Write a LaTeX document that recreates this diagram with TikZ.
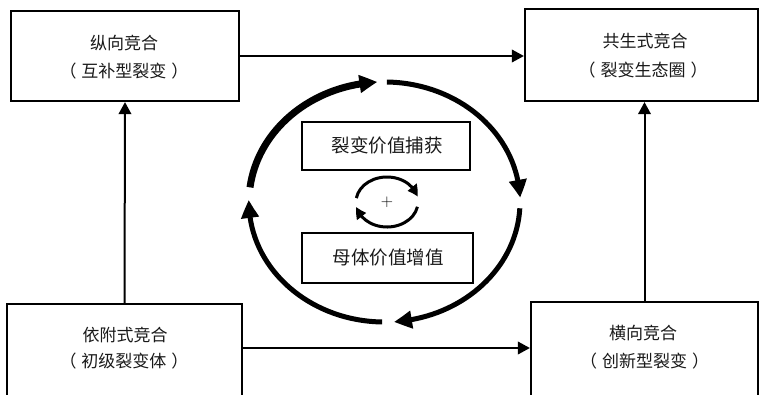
\documentclass[tikz,border=0pt]{standalone}
\usepackage{fontspec}
\newfontfamily\cjk{Noto Sans CJK SC}
\usetikzlibrary{arrows.meta,bending}

\newcommand{\paren}[1]{（\kern5pt #1\kern5pt ）}

\tikzset{
  box/.style={draw, line width=2.2pt, inner sep=0pt},
  inbox/.style={draw, line width=1.8pt, inner sep=0pt},
  lbl/.style={font=\cjk\fontsize{17}{20}\selectfont, inner sep=0pt, text=black!90},
  inlbl/.style={font=\cjk\fontsize{18.5}{22}\selectfont, inner sep=0pt, text=black!90},
  conn/.style={line width=2pt, -{Triangle[length=12pt,width=12.5pt]}},
  loop/.style={line width=5pt, -{Triangle[length=18pt,width=17pt,bend]}},
  loopheavy/.style={loop, line width=7pt},
  spin/.style={line width=3pt, -{Triangle[length=11pt,width=11pt,bend]}},
}

\begin{document}
\begin{tikzpicture}[x=1pt,y=-1pt]
\useasboundingbox (0,0) rectangle (760,394);
\clip (0,0) rectangle (760,394);

% four outer boxes (the lower two run past the bottom edge)
\node[box, minimum width=228pt, minimum height=90pt]  (tl) at (125,56) {};
\node[box, minimum width=233pt, minimum height=92pt]  (tr) at (641.5,55) {};
\node[box, minimum width=235pt, minimum height=106pt] (bl) at (124.5,357) {};
\node[box, minimum width=227pt, minimum height=108pt] (br) at (644.5,356) {};

% box captions
\node[lbl] (tla) at (124,43)   {纵向竞合};
\node[lbl] (tlb) at (124,71)   {\paren{互补型裂变}};
\node[lbl] (tra) at (645,41.5) {共生式竞合};
\node[lbl] (trb) at (643,70)   {\paren{裂变生态圈}};
\node[lbl] (bla) at (125,335)  {依附式竞合};
\node[lbl] (blb) at (124,361.5){\paren{初级裂变体}};
\node[lbl] (bra) at (643,333.5){横向竞合};
\node[lbl] (brb) at (644.5,361.5){\paren{创新型裂变}};

% connectors between the outer boxes
\draw[conn] (tl.east) -- (tl.east -| tr.west);
\draw[conn] ([yshift=9pt]bl.east) -- ([yshift=9pt]bl.east -| br.west);
\draw[conn] (bl.north) -- (tl.south);
\draw[conn] (br.north) -- (br.north |- tr.south);

% inner boxes
\node[inbox, minimum width=168pt, minimum height=48pt] (cap) at (386,146) {};
\node[inbox, minimum width=171pt, minimum height=50pt] (gro) at (387.5,258) {};
\node[inlbl] (capt) at (387,145) {裂变价值捕获};
\node[inlbl] (grot) at (388,258) {母体价值增值};

% large clockwise ring of four arcs
\coordinate (ring) at (384.5,202);
\draw[loopheavy] ([shift={(187:135.5 and 120)}]ring)
  arc[start angle=187, end angle=267, x radius=135.5, y radius=120];
\draw[loop] ([shift={(271:135.5 and 120)}]ring)
  arc[start angle=271, end angle=358, x radius=135.5, y radius=120];
\draw[loop] ([shift={(3:135.5 and 120)}]ring)
  arc[start angle=3, end angle=86, x radius=135.5, y radius=120];
\draw[loop] ([shift={(91:135.5 and 120)}]ring)
  arc[start angle=91, end angle=181, x radius=135.5, y radius=120];

% small reinforcing loop
\coordinate (spinc) at (387,202);
\draw[spin] ([shift={(189:31 and 25)}]spinc)
  arc[start angle=189, end angle=348, x radius=31, y radius=25];
\draw[spin] ([shift={(11:31 and 25)}]spinc)
  arc[start angle=11, end angle=169, x radius=31, y radius=25];
\node[inner sep=0pt, font=\fontsize{17}{17}\selectfont] (plus) at (387,202) {+};
\end{tikzpicture}
\end{document}
